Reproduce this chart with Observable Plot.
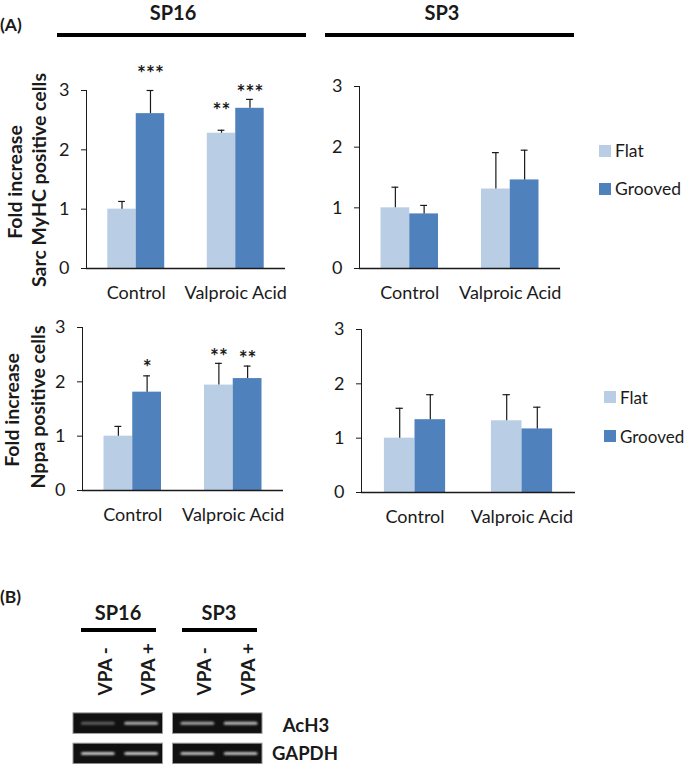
<!DOCTYPE html>
<html>
<head>
<meta charset="utf-8">
<script src="https://cdn.jsdelivr.net/npm/d3@7"></script>
<script src="https://cdn.jsdelivr.net/npm/@observablehq/plot@0.6"></script>
<style>
  html, body { margin: 0; padding: 0; background: #fff; overflow: hidden; }
  #page { position: relative; width: 687px; height: 764px; font-family: Lato, "Open Sans", sans-serif; color: #1a1a1a; }
  .abs { position: absolute; white-space: nowrap; line-height: 1; }
  .panel { position: absolute; }
  .bar { position: absolute; background: #000; }
</style>
</head>
<body>
<div id="page"></div>
<script>
// ---------------- data ----------------
const categories = ["Control", "Valproic Acid"];
const series = ["Flat", "Grooved"];
const seriesColors = ["#B9CDE5", "#4F81BD"];
const yTicks = [0, 1, 2, 3];

// Sarc MyHC positive cells, SP16
const sarcSP16Flat = [1.00, 2.28];
const sarcSP16FlatErr = [0.13, 0.05];
const sarcSP16Grooved = [2.61, 2.70];
const sarcSP16GroovedErr = [0.39, 0.15];
const sarcSP16FlatStars = ["", "**"];
const sarcSP16FlatStarAt = [null, 2.75];
const sarcSP16GroovedStars = ["***", "***"];
const sarcSP16GroovedStarAt = [3.37, 3.05];

// Sarc MyHC positive cells, SP3
const sarcSP3Flat = [1.00, 1.31];
const sarcSP3FlatErr = [0.34, 0.60];
const sarcSP3Grooved = [0.90, 1.46];
const sarcSP3GroovedErr = [0.14, 0.49];

// Nppa positive cells, SP16
const nppaSP16Flat = [1.00, 1.94];
const nppaSP16FlatErr = [0.18, 0.40];
const nppaSP16Grooved = [1.81, 2.06];
const nppaSP16GroovedErr = [0.30, 0.23];
const nppaSP16FlatStars = ["", "**"];
const nppaSP16FlatStarAt = [null, 2.56];
const nppaSP16GroovedStars = ["*", "**"];
const nppaSP16GroovedStarAt = [2.36, 2.52];

// Nppa positive cells, SP3
const nppaSP3Flat = [1.00, 1.32];
const nppaSP3FlatErr = [0.55, 0.48];
const nppaSP3Grooved = [1.34, 1.17];
const nppaSP3GroovedErr = [0.46, 0.40];

// Western blot (B)
const gelGroups = ["SP16", "SP3"];
const gelLanes = ["VPA -", "VPA +"];
const gelRows = ["AcH3", "GAPDH"];
const ach3Intensity = [0.40, 0.80, 0.75, 0.85];
const gapdhIntensity = [0.90, 0.92, 0.85, 0.85];

// ---------------- helpers ----------------
const FONT = 'Lato, "Open Sans", sans-serif';
const page = document.getElementById("page");

function addText(text, x, y, opts = {}) {
  const d = document.createElement("div");
  d.className = "abs";
  d.textContent = text;
  d.style.left = x + "px";
  d.style.top = y + "px";
  d.style.fontSize = (opts.size || 17.5) + "px";
  d.style.fontWeight = opts.weight || "normal";
  const rot = opts.rotate ? ` rotate(${opts.rotate}deg)` : "";
  const tx = opts.anchor === "start" ? "0" : opts.anchor === "end" ? "-100%" : "-50%";
  d.style.transform = `translate(${tx},-50%)${rot}`;
  page.appendChild(d);
  return d;
}
function addBar(x1, x2, y, h) {
  const d = document.createElement("div");
  d.className = "bar";
  d.style.left = x1 + "px";
  d.style.width = (x2 - x1) + "px";
  d.style.top = (y - h / 2) + "px";
  d.style.height = h + "px";
  page.appendChild(d);
}
function addSwatch(x, y, color) {
  const d = document.createElement("div");
  d.style.position = "absolute";
  d.style.left = x + "px";
  d.style.top = (y - 6) + "px";
  d.style.width = "12px";
  d.style.height = "12px";
  d.style.background = color;
  page.appendChild(d);
}

function barPanel(p, layout) {
  const rows = [];
  categories.forEach((c, i) => {
    rows.push({i, s: "Flat", v: p.flat[i], e: p.flatErr[i],
      star: p.flatStars ? p.flatStars[i] : "", starAt: p.flatStarAt ? p.flatStarAt[i] : null});
    rows.push({i, s: "Grooved", v: p.grooved[i], e: p.groovedErr[i],
      star: p.groovedStars ? p.groovedStars[i] : "", starAt: p.groovedStarAt ? p.groovedStarAt[i] : null});
  });
  const bw = 0.286, cap = 0.034;
  const x1 = d => d.s === "Flat" ? d.i - bw : d.i;
  const x2 = d => d.s === "Flat" ? d.i : d.i + bw;
  const xc = d => d.s === "Flat" ? d.i - bw / 2 : d.i + bw / 2;
  const chart = Plot.plot({
    width: layout.width, height: layout.height,
    marginLeft: layout.marginLeft, marginRight: layout.marginRight,
    marginTop: layout.marginTop, marginBottom: layout.marginBottom,
    style: {fontFamily: FONT, fontSize: "18px", color: "#1a1a1a", background: "transparent", overflow: "visible"},
    x: {domain: [-0.5, 1.5], ticks: [0, 1], tickFormat: i => categories[i], tickSize: 0, tickPadding: 18, label: null},
    y: {domain: [0, 3], ticks: yTicks, tickSize: 5, tickPadding: 12, label: null, line: true, tickFormat: d => String(d)},
    color: {domain: series, range: seriesColors},
    marks: [
      Plot.rect(rows, {x1, x2, y1: 0, y2: "v", fill: "s"}),
      Plot.ruleX(rows, {x: xc, y1: "v", y2: d => d.v + d.e, stroke: "#1a1a1a", strokeWidth: 1.2}),
      Plot.ruleY(rows, {x1: d => xc(d) - cap, x2: d => xc(d) + cap, y: d => d.v + d.e, stroke: "#1a1a1a", strokeWidth: 1.2}),
      Plot.ruleY([0], {stroke: "#1a1a1a", strokeWidth: 1.4}),
      Plot.text(rows.filter(d => d.star), {x: xc, y: "starAt", text: "star", fontWeight: "bold", fontSize: 21, dy: 6})
    ]
  });
  chart.classList.add("panel");
  chart.style.left = layout.left + "px";
  chart.style.top = layout.top + "px";
  page.appendChild(chart);
}

// ---------------- part A ----------------
addText("(A)", 0, 25, {size: 17.5, weight: "bold", anchor: "start"});
addText("SP16", 173, 12, {size: 20, weight: "bold"});
addText("SP3", 442, 12, {size: 20, weight: "bold"});
addBar(57, 306, 34.7, 4);
addBar(325, 574, 34.7, 4);

barPanel({flat: sarcSP16Flat, flatErr: sarcSP16FlatErr, grooved: sarcSP16Grooved, groovedErr: sarcSP16GroovedErr,
  flatStars: sarcSP16FlatStars, flatStarAt: sarcSP16FlatStarAt, groovedStars: sarcSP16GroovedStars, groovedStarAt: sarcSP16GroovedStarAt},
  {left: 0, top: 60, width: 300, height: 248, marginLeft: 86, marginRight: 15, marginTop: 30, marginBottom: 40});
barPanel({flat: sarcSP3Flat, flatErr: sarcSP3FlatErr, grooved: sarcSP3Grooved, groovedErr: sarcSP3GroovedErr},
  {left: 299, top: 56, width: 271, height: 252, marginLeft: 60, marginRight: 10, marginTop: 30, marginBottom: 40});
barPanel({flat: nppaSP16Flat, flatErr: nppaSP16FlatErr, grooved: nppaSP16Grooved, groovedErr: nppaSP16GroovedErr,
  flatStars: nppaSP16FlatStars, flatStarAt: nppaSP16FlatStarAt, groovedStars: nppaSP16GroovedStars, groovedStarAt: nppaSP16GroovedStarAt},
  {left: 0, top: 297, width: 298, height: 233, marginLeft: 82, marginRight: 15, marginTop: 30, marginBottom: 40});
barPanel({flat: nppaSP3Flat, flatErr: nppaSP3FlatErr, grooved: nppaSP3Grooved, groovedErr: nppaSP3GroovedErr},
  {left: 300, top: 299, width: 285, height: 233, marginLeft: 61, marginRight: 10, marginTop: 30, marginBottom: 40});

// y-axis titles
addText("Fold increase", 15, 182, {size: 19.5, weight: "bold", rotate: -90});
addText("Sarc MyHC positive cells", 38.5, 180, {size: 19.5, weight: "bold", rotate: -90});
addText("Fold increase", 12, 410, {size: 19.5, weight: "bold", rotate: -90});
addText("Nppa positive cells", 38, 407, {size: 19.5, weight: "bold", rotate: -90});

// legends
[[599, 151, 189, 17.5], [604, 397, 436, 17]].forEach(([x, y1, y2, fs]) => {
  addSwatch(x, y1, seriesColors[0]);
  addText(series[0], x + 16, y1, {size: fs, anchor: "start"});
  addSwatch(x, y2, seriesColors[1]);
  addText(series[1], x + 16, y2, {size: fs, anchor: "start"});
});

// ---------------- part B ----------------
addText("(B)", 0, 597, {size: 17.5, weight: "bold", anchor: "start"});
addText("SP16", 118, 612, {size: 20, weight: "bold"});
addText("SP3", 219, 612, {size: 20, weight: "bold"});
addBar(81, 156, 630, 4);
addBar(182, 257, 630, 4);
addText(gelRows[0], 306, 725, {size: 18.5, weight: "bold"});
addText(gelRows[1], 305, 753, {size: 18.5, weight: "bold"});

const laneOffset = [-0.2, 0.235];
const boxes = [];
gelRows.forEach((r, ri) => gelGroups.forEach((g, gi) => boxes.push({r: ri, g: gi})));
const bands = [];
gelRows.forEach((r, ri) => gelGroups.forEach((g, gi) => gelLanes.forEach((l, li) => {
  const k = gi * 2 + li;
  bands.push({r: ri, pos: gi + laneOffset[li], a: (ri === 0 ? ach3Intensity : gapdhIntensity)[k]});
})));
const laneLabels = [];
gelGroups.forEach((g, gi) => gelLanes.forEach((l, li) => laneLabels.push({pos: gi + laneOffset[li], text: l})));

const gel = Plot.plot({
  width: 300, height: 130,
  marginLeft: 68, marginRight: 33, marginTop: 68, marginBottom: 1.4,
  style: {fontFamily: FONT, color: "#1a1a1a", background: "transparent", overflow: "visible"},
  x: {domain: [-0.5, 1.5], axis: null},
  y: {domain: [-0.5, 1.5], reverse: true, axis: null},
  marks: [
    Plot.rect(boxes, {x1: d => d.g - 0.45, x2: d => d.g + 0.45, y1: d => d.r - 0.34, y2: d => d.r + 0.34,
      fill: "#111111", stroke: "#a0a0a0", strokeWidth: 1}),
    Plot.rect(bands, {x1: d => d.pos - 0.17, x2: d => d.pos + 0.17, y1: d => d.r - 0.05, y2: d => d.r + 0.05,
      fill: "#d8d8d8", fillOpacity: "a", rx: 2}),
    Plot.text(laneLabels, {x: "pos", text: "text", frameAnchor: "top", rotate: -90, textAnchor: "start",
      dy: -13, fontWeight: "bold", fontSize: 19})
  ]
});
gel.classList.add("panel");
gel.style.left = "0px";
gel.style.top = "640px";
const svgNS = "http://www.w3.org/2000/svg";
const defs = document.createElementNS(svgNS, "defs");
defs.innerHTML = '<filter id="bandblur" x="-20%" y="-150%" width="140%" height="400%"><feGaussianBlur stdDeviation="1.3"/></filter>';
gel.insertBefore(defs, gel.firstChild);
const rectGroups = gel.querySelectorAll('g[aria-label="rect"]');
if (rectGroups.length > 1) rectGroups[1].setAttribute("filter", "url(#bandblur)");
page.appendChild(gel);
</script>
</body>
</html>
